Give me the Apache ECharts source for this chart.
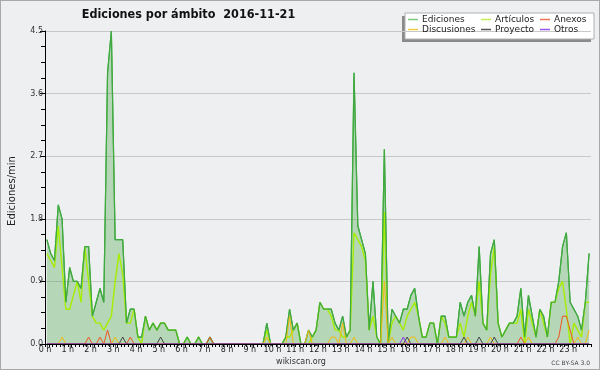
<!DOCTYPE html>
<html>
<head>
<meta charset="utf-8">
<script src="https://cdn.jsdelivr.net/npm/echarts@6/dist/echarts.min.js"></script>
<style>
html,body{margin:0;padding:0;background:#eeeff1;}
#c{width:598px;height:368px;border:1px solid #a8a8a8;background:#eeeff1;}
</style>
</head>
<body>
<div id="c"></div>
<script>
// 10-minute buckets (144 per day), edits per minute
const hourLabels = ['0 h','1 h','2 h','3 h','4 h','5 h','6 h','7 h','8 h','9 h','10 h','11 h','12 h','13 h','14 h','15 h','16 h','17 h','18 h','19 h','20 h','21 h','22 h','23 h'];
const yTicks = [0, 0.9, 1.8, 2.7, 3.6, 4.5];

const ediciones = [
  1.5,1.3,1.2,2.0,1.8,0.6,
  1.1,0.9,0.9,0.8,1.4,1.4,
  0.4,0.6,0.8,0.6,3.9,4.5,
  1.5,1.5,1.5,0.3,0.5,0.5,
  0.1,0.1,0.4,0.2,0.3,0.2,
  0.3,0.3,0.2,0.2,0.2,0,
  0,0.1,0,0,0.1,0,
  0,0.1,0,0,0,0,
  0,0,0,0,0,0,
  0,0,0,0,0.3,0,
  0,0,0,0.1,0.5,0.2,
  0.3,0,0,0.2,0.1,0.2,
  0.6,0.5,0.5,0.5,0.3,0.2,
  0.4,0.1,0.2,3.9,1.7,1.5,
  1.3,0.2,0.9,0.1,0,2.8,
  0,0.5,0.4,0.3,0.5,0.5,
  0.7,0.8,0.4,0.1,0.1,0.3,
  0.3,0,0.4,0.4,0.1,0.1,
  0.1,0.6,0.4,0.6,0.7,0.4,
  1.4,0.3,0.2,1.3,1.5,0.3,
  0.1,0.2,0.3,0.3,0.4,0.8,
  0.1,0.7,0.4,0.1,0.5,0.4,
  0.1,0.6,0.6,0.9,1.4,1.6,
  0.6,0.5,0.4,0.2,0.6,1.3
];
const articulos = [
  1.3,1.2,1.1,1.7,1.1,0.5,
  0.5,0.7,0.9,0.6,1.4,0.9,
  0.4,0.3,0.3,0.2,0.3,0.4,
  0.9,1.3,1.0,0.3,0.3,0.5,
  0.1,0,0.4,0.2,0.3,0.2,
  0.3,0.3,0.2,0.2,0.2,0,
  0,0.1,0,0,0.1,0,
  0,0,0,0,0,0,
  0,0,0,0,0,0,
  0,0,0,0,0.2,0,
  0,0,0,0.1,0.1,0.2,
  0.3,0,0,0,0.1,0.2,
  0.6,0.5,0.5,0.4,0.2,0.2,
  0.1,0.1,0.2,1.6,1.5,1.4,
  1.2,0.2,0.4,0.1,0,1.9,
  0,0.3,0.4,0.3,0.2,0.4,
  0.5,0.6,0.4,0.1,0.1,0.3,
  0.3,0,0.4,0.3,0.1,0.1,
  0.1,0.3,0.1,0.4,0.6,0.4,
  0.9,0.3,0.2,1.0,1.4,0.3,
  0.1,0.2,0.3,0.3,0.3,0.5,
  0,0.5,0.3,0.1,0.5,0.3,
  0.1,0.6,0.6,0.8,0.9,0.5,
  0,0.3,0.2,0.1,0.6,0.6
];
// sparse series: [bucket index, value]
const discusionesPts = [[4,0.1],[18,0.1],[58,0.1],[64,0.4],[69,0.2],[75,0.1],[76,0.1],[78,0.3],[81,0.1],[89,0.9],[91,0.1],[96,0.1],[97,0.1],[105,0.1],[111,0.1],[117,0.1],[127,0.1],[140,0.1],[143,0.2]];
const anexosPts = [[11,0.1],[14,0.1],[16,0.2],[22,0.1],[43,0.1],[125,0.1],[135,0.1],[136,0.4],[137,0.4],[138,0.2]];
const proyectoPts = [[20,0.1],[30,0.1],[95,0.1],[110,0.1],[114,0.1],[118,0.1]];
const otrosPts = [[94,0.1]];

function full(arr){ return arr.map((v,i)=>[i*10+5, v]); }
function sparse(pts){
  const a = new Array(144).fill(0);
  pts.forEach(p=>{a[p[0]]=p[1];});
  return full(a);
}

const FONT = 'DejaVu Sans';
const chart = echarts.init(document.getElementById('c'), null, {renderer:'canvas'});

function lineSeries(name, data, color, width, z){
  return {name, type:'line', data, symbol:'none', showSymbol:false, z,
    lineStyle:{color, width}, itemStyle:{color}, emphasis:{disabled:true}, silent:true};
}

const legendCommon = {orient:'vertical', icon:'rect', itemWidth:10, itemHeight:1.5, itemGap:1,
  textStyle:{fontFamily:FONT, fontSize:9, color:'#222', lineHeight:9, padding:[0,0,0,-1]}, selectedMode:false, padding:0, top:14};

chart.setOption({
  animation:false,
  backgroundColor:'#eeeff1',
  grid:{left:44, right:8, top:30, bottom:25},
  xAxis:{type:'value', min:0, max:1440, interval:60, z:10,
    axisLine:{lineStyle:{color:'#000', width:1}},
    axisTick:{show:true, length:3, lineStyle:{color:'#000'}},
    minorTick:{show:true, splitNumber:6, length:3, lineStyle:{color:'#000'}},
    splitLine:{show:false},
    axisLabel:{fontFamily:FONT, fontSize:8, color:'#222', margin:2, showMaxLabel:false,
      formatter:(v)=> hourLabels[Math.round(v/60)] || ''}
  },
  yAxis:{type:'value', min:yTicks[0], max:yTicks[yTicks.length-1], interval:0.9, z:1,
    axisLine:{show:true, lineStyle:{color:'#000', width:1}},
    axisTick:{show:true, length:5, lineStyle:{color:'#000'}},
    minorTick:{show:true, splitNumber:4, length:4, lineStyle:{color:'#000'}},
    splitLine:{show:true, lineStyle:{color:'#c8c8c8', width:1}},
    axisLabel:{fontFamily:FONT, fontSize:8, color:'#333', margin:2, formatter:(v)=>v.toFixed(1)}
  },
  legend:[
    Object.assign({}, legendCommon, {left:407, data:[{name:'Ediciones', itemStyle:{color:'#7cc87c'}},{name:'Discusiones', itemStyle:{color:'#eecc44'}}]}),
    Object.assign({}, legendCommon, {left:480, data:[{name:'Artículos', itemStyle:{color:'#c4ee55'}},{name:'Proyecto', itemStyle:{color:'#555555'}}]}),
    Object.assign({}, legendCommon, {left:539, data:[{name:'Anexos', itemStyle:{color:'#ee7755'}},{name:'Otros', itemStyle:{color:'#9955ee'}}]})
  ],
  graphic:[
    {type:'rect', z:-1, shape:{x:401, y:15, width:189, height:26}, style:{fill:'#8a8a8a'}},
    {type:'rect', z:0, shape:{x:404, y:12, width:189, height:26}, style:{fill:'#ffffff', stroke:'#b0b0b0', lineWidth:1}},
    {type:'text', x:187.5, y:14, scaleX:0.9, style:{text:'Ediciones por ámbito  2016-11-21', x:0, y:0, textAlign:'center', textVerticalAlign:'middle',
      font:'bold 12.5px "DejaVu Sans"', fill:'#111'}},
    {type:'text', rotation:Math.PI/2, x:11, y:190, style:{text:'Ediciones/min', x:0, y:0, textAlign:'center', textVerticalAlign:'middle',
      font:'10px "DejaVu Sans"', fill:'#222'}},
    {type:'text', style:{text:'wikiscan.org', x:300, y:361, textAlign:'center', textVerticalAlign:'middle', font:'8px "DejaVu Sans"', fill:'#333'}},
    {type:'text', style:{text:'CC BY-SA 3.0', x:589, y:362, textAlign:'right', textVerticalAlign:'middle', font:'6px "DejaVu Sans"', fill:'#444'}}
  ],
  series:[
    Object.assign(lineSeries('Ediciones', full(ediciones), '#40aa40', 1.2, 2), {areaStyle:{color:'rgba(60,160,60,0.45)'}}),
    lineSeries('Artículos', full(articulos), '#a6ee00', 1.4, 3),
    lineSeries('Ediciones', full(ediciones), '#40aa40', 1.2, 4),
    lineSeries('Discusiones', sparse(discusionesPts), '#eebb11', 1, 5),
    lineSeries('Anexos', sparse(anexosPts), '#ee5522', 1, 5),
    lineSeries('Proyecto', sparse(proyectoPts), '#444444', 1, 5),
    lineSeries('Otros', sparse(otrosPts), '#8833dd', 1, 5)
  ]
});
</script>
</body>
</html>
